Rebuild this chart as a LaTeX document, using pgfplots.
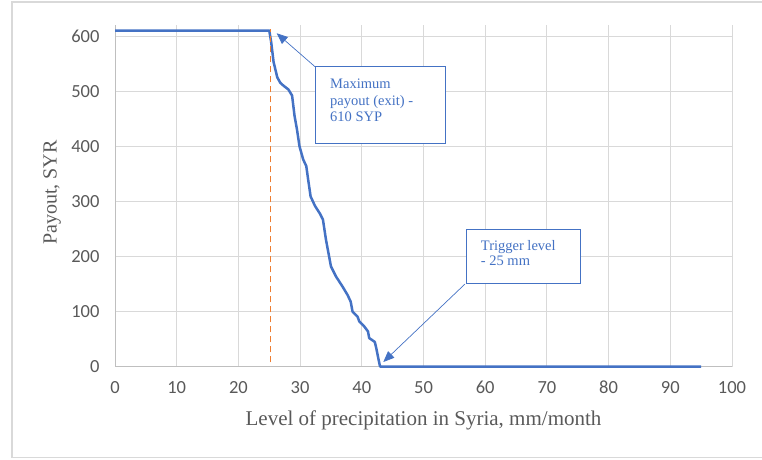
\documentclass[border=0pt]{standalone}
\usepackage{pgfplots}
\pgfplotsset{compat=1.18}
\usepackage{fontspec}
\setmainfont{Liberation Serif}
\newfontfamily\carlito{Carlito}
\usetikzlibrary{arrows.meta}
\definecolor{xblue}{HTML}{4472C4}
\definecolor{xorange}{HTML}{ED7D31}
\definecolor{xgrid}{HTML}{D9D9D9}
\definecolor{xaxis}{HTML}{BFBFBF}
\definecolor{xtext}{HTML}{595959}
\begin{document}
\begin{tikzpicture}[x=1pt,y=1pt]
\path[use as bounding box] (0,0) rectangle (762,459);
\draw[xgrid, line width=1.5pt] (770,457) -- (12,457) -- (12,1.3) -- (770,1.3);
\begin{axis}[
  at={(115pt,92.3pt)}, anchor=south west, scale only axis,
  width=617pt, height=341.7pt,
  xmin=0, xmax=100, ymin=0, ymax=620,
  xtick={0,10,...,100}, ytick={0,100,...,600},
  grid=major, major grid style={xgrid, line width=1pt},
  axis x line*=bottom, axis y line*=left,
  axis line style={xaxis, line width=1pt, -},
  major tick length=0pt,
  clip=false,
  tick label style={font=\carlito\fontsize{18.5}{18.5}\selectfont, text=xtext},
  /pgf/number format/assume math mode=true,
  xticklabel style={yshift=-11pt},
  yticklabel style={xshift=-12pt},
  xlabel={Level of precipitation in Syria, mm/month},
  ylabel={Payout, SYR},
  every axis x label/.style={at={(axis description cs:0.5,-0.1727)}, anchor=base, font=\fontsize{21}{21}\selectfont, text=xtext},
  every axis y label/.style={at={(axis description cs:-0.102,0.51)}, rotate=90, anchor=center, font=\fontsize{20}{20}\selectfont, text=xtext},
]
\addplot[xblue, line width=2.5pt, line join=round] coordinates {
(0,610) (25,610) (25.3,590) (25.7,553) (26.3,525) (26.8,515) (27.3,510)
(28.1,503) (28.7,492) (29.1,455) (29.5,430) (29.9,400) (30.5,376)
(31.0,364) (31.3,340) (31.7,309) (32.4,292) (33.2,278) (33.7,267)
(34.2,230) (34.7,200) (35.0,182) (35.8,164) (36.9,145) (37.7,130)
(38.2,118) (38.5,100) (39.3,91) (39.6,82) (40.4,73) (41.0,64)
(41.2,52) (42.1,45) (42.3,36) (42.9,3) (43.0,0) (95,0)
};
\addplot[xorange, line width=1.5pt, dash pattern=on 6pt off 4pt] coordinates {(25.2,8) (25.2,612)};
\end{axis}
% callouts
\draw[xblue, line width=0.7pt, -{Triangle[length=11pt,width=9pt]}] (315,392.3) -- (276.7,425.7);
\draw[xblue, line width=0.7pt, -{Triangle[length=11pt,width=9pt]}] (465,175) -- (383.3,97);
\draw[xblue, line width=0.8pt, fill=white] (315,316) rectangle (445,392.3);
\draw[xblue, line width=0.8pt, fill=white] (466,175.7) rectangle (580,229.7);
\begin{scope}[every node/.style={anchor=base west, inner sep=0pt, text=xblue, font=\fontsize{14.5}{16}\selectfont}]
\node at (330,370.7) {Maximum};
\node at (330,354) {payout (exit) -};
\node at (330,337.3) {610 SYP};
\node at (480.7,209) {Trigger level};
\node at (480.7,194) {- 25 mm};
\end{scope}
\end{tikzpicture}
\end{document}
